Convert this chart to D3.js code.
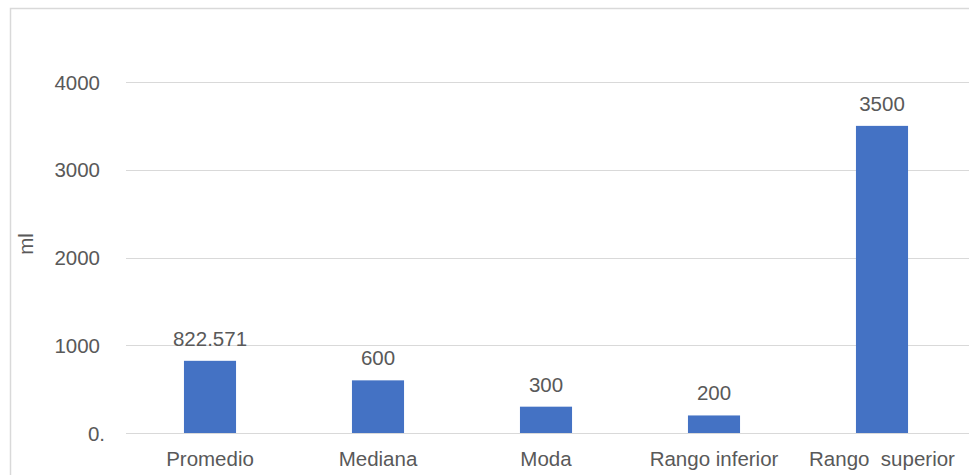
<!DOCTYPE html>
<html>
<head>
<meta charset="utf-8">
<script src="https://cdn.jsdelivr.net/npm/d3@7"></script>
<style>
  html, body { margin: 0; padding: 0; background: #fff; }
  svg { display: block; }
  text { font-family: "Liberation Sans", Arial, sans-serif; fill: #595959; }
</style>
</head>
<body>
<svg id="chart" width="969" height="475"></svg>
<script>
// Summary statistics (ml)
const categories = ["Promedio", "Mediana", "Moda", "Rango inferior", "Rango  superior"];
const values = [822.571, 600, 300, 200, 3500];
const valueLabels = ["822.571", "600", "300", "200", "3500"];
const yTicks = [0, 1000, 2000, 3000, 4000];
const yTickLabels = ["0.", "1000", "2000", "3000", "4000"];
const yTitle = "ml";

const svg = d3.select("#chart");
const W = 969, H = 475;
const FS = 20.5;

// Chart area frame
svg.append("rect")
  .attr("x", 10.5).attr("y", 8.5)
  .attr("width", W + 10).attr("height", H + 10)
  .attr("fill", "none").attr("stroke", "#d9d9d9").attr("stroke-width", 1.5);

const plot = { left: 126, right: 966, top: 82, bottom: 433 };

const x = d3.scaleBand()
  .domain(categories)
  .range([plot.left, plot.right])
  .paddingInner(0.69)
  .paddingOuter(0.345);

const y = d3.scaleLinear()
  .domain([0, 4000])
  .range([plot.bottom, plot.top]);

// Horizontal gridlines
svg.append("g")
  .selectAll("line")
  .data(yTicks)
  .join("line")
  .attr("x1", plot.left).attr("x2", W)
  .attr("y1", d => Math.round(y(d)) + 0.5)
  .attr("y2", d => Math.round(y(d)) + 0.5)
  .attr("stroke", "#d9d9d9").attr("stroke-width", 1.2);

// Y axis tick labels
const yAxis = d3.axisLeft(y)
  .tickValues(yTicks)
  .tickSize(0)
  .tickPadding(0)
  .tickFormat((d, i) => yTickLabels[i]);

svg.append("g")
  .attr("transform", "translate(100,0)")
  .call(yAxis)
  .call(g => g.select(".domain").remove())
  .call(g => g.selectAll("text")
    .attr("font-size", FS)
    .attr("font-family", null)
    .attr("fill", "#595959")
    .attr("dy", "0.35em")
    .attr("dx", (d) => d === 0 ? 5 : 0));

// Y axis title
svg.append("text")
  .attr("transform", "translate(33,244) rotate(-90)")
  .attr("text-anchor", "middle")
  .attr("font-size", FS)
  .text(yTitle);

// Bars
svg.append("g")
  .selectAll("rect")
  .data(values)
  .join("rect")
  .attr("x", (d, i) => x(categories[i]))
  .attr("y", d => y(d))
  .attr("width", x.bandwidth())
  .attr("height", d => y(0) - y(d))
  .attr("fill", "#4472c4");

// Value labels
svg.append("g")
  .selectAll("text")
  .data(values)
  .join("text")
  .attr("x", (d, i) => x(categories[i]) + x.bandwidth() / 2)
  .attr("y", d => y(d) - 15)
  .attr("text-anchor", "middle")
  .attr("font-size", FS)
  .text((d, i) => valueLabels[i]);

// X axis category labels
const xAxis = d3.axisBottom(x).tickSize(0).tickPadding(0);
svg.append("g")
  .attr("transform", `translate(0,${plot.bottom})`)
  .call(xAxis)
  .call(g => g.select(".domain").remove())
  .call(g => g.selectAll("text")
    .attr("font-size", FS)
    .attr("font-family", null)
    .attr("fill", "#595959")
    .attr("y", 33)
    .attr("dy", null)
    .style("white-space", "pre"));
</script>
</body>
</html>
